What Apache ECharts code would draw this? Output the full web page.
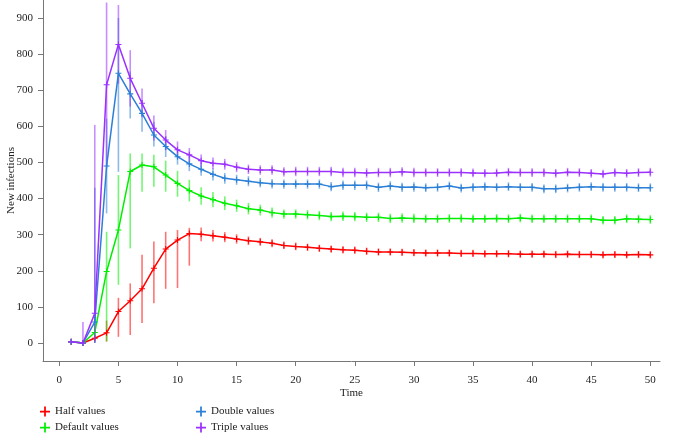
<!DOCTYPE html>
<html>
<head>
<meta charset="utf-8">
<script src="https://cdn.jsdelivr.net/npm/echarts@6/dist/echarts.min.js"></script>
<style>html,body{margin:0;padding:0;background:#fff;}#chart{width:674px;height:434px;}</style>
</head>
<body>
<div id="chart"></div>
<script>
const time = [1,2,3,4,5,6,7,8,9,10,11,12,13,14,15,16,17,18,19,20,21,22,23,24,25,26,27,28,29,30,31,32,33,34,35,36,37,38,39,40,41,42,43,44,45,46,47,48,49,50];
const xTicks = [0,5,10,15,20,25,30,35,40,45,50];
const yTicks = [0,100,200,300,400,500,600,700,800,900];
const seriesNames = ['Half values','Default values','Double values','Triple values'];

const halfMean = [3,0,13,28,87,117,150,207,260,285,303,301,297,293,288,283,280,276,270,267,265,262,260,258,257,254,252,252,251,250,249,249,249,248,248,247,247,247,246,246,246,245,246,245,245,244,245,244,245,244];
const halfLow  = [3,0,5,4,17,22,55,110,150,152,214,282,281,279,275,271,269,265,260,257,255,252,250,248,247,244,242,242,241,240,239,239,239,238,238,237,237,237,236,236,236,235,236,235,235,234,235,234,235,234];
const halfHigh = [3,0,22,62,125,165,244,281,308,313,319,320,313,307,301,295,291,287,281,278,275,272,270,268,267,264,262,262,261,260,259,259,259,258,258,257,257,257,256,256,256,255,256,255,255,254,255,254,255,254];

const defMean = [3,0,29,198,313,475,493,488,465,442,422,407,397,387,380,372,368,361,357,357,355,353,350,351,350,348,348,345,346,345,344,344,345,345,344,344,345,344,346,344,344,344,344,344,344,340,340,344,343,342];
const defLow  = [3,0,0,4,161,262,419,433,419,405,392,383,376,368,363,356,353,347,344,344,342,340,337,338,337,335,335,332,333,332,332,332,333,333,332,332,333,332,334,332,332,332,332,332,332,328,328,332,331,330];
const defHigh = [3,0,80,308,465,525,525,521,505,477,452,431,418,406,397,388,383,375,370,370,368,366,363,364,363,361,361,358,359,358,356,356,357,357,356,356,357,356,358,356,356,356,356,356,356,352,352,356,355,354];

const dblMean = [3,0,58,490,747,690,636,576,544,516,496,481,467,456,452,448,444,441,440,440,440,440,433,437,437,437,431,435,431,432,430,431,435,429,431,433,431,433,431,431,427,427,429,431,433,431,431,431,430,430];
const dblLow  = [3,0,0,359,474,622,585,544,515,494,476,463,450,441,438,434,431,428,427,427,427,427,420,424,424,424,418,422,418,419,418,419,423,417,419,421,419,421,419,419,415,415,417,419,421,419,419,419,418,418];
const dblHigh = [3,0,430,621,900,752,673,613,573,538,516,499,484,471,466,462,457,454,453,453,453,453,446,450,450,450,444,448,444,445,442,443,447,441,443,445,443,445,443,443,439,439,441,443,445,443,443,443,442,442];

const triMean = [3,0,82,715,827,733,664,595,562,535,521,505,498,495,487,481,479,479,474,475,475,475,475,472,472,471,472,472,474,472,472,472,472,472,471,470,471,473,472,472,472,470,473,472,470,468,472,470,472,473];
const triLow  = [3,0,0,487,718,655,625,560,534,512,502,488,482,480,473,468,466,466,461,462,462,462,462,459,459,458,459,459,461,459,460,460,460,460,459,458,459,461,460,460,460,458,461,460,458,456,460,458,460,461];
const triHigh = [3,58,604,943,936,811,705,630,590,558,540,522,514,510,501,494,492,492,487,488,488,488,488,485,485,484,485,485,487,485,484,484,484,484,483,482,483,485,484,484,484,482,485,484,482,480,484,482,484,485];

const colors = ['#ff0000','#00ee00','#2b7fd6','#9b30ff'];
const groups = [
  [halfMean, halfLow, halfHigh],
  [defMean, defLow, defHigh],
  [dblMean, dblLow, dblHigh],
  [triMean, triLow, triHigh]
];

const plus = 'path://M-0.7,-4H0.7V-0.7H4V0.7H0.7V4H-0.7V0.7H-4V-0.7H-0.7Z';
const font = 'Liberation Serif';

const series = [];
groups.forEach((g, k) => {
  const col = colors[k];
  series.push({
    type: 'custom',
    name: seriesNames[k] + ' error',
    silent: true,
    z: 2 + k,
    encode: {x: 0, y: [1, 2]},
    data: time.map((t, i) => [t, g[1][i], g[2][i]]),
    renderItem: function (params, api) {
      const x = api.value(0);
      const p1 = api.coord([x, api.value(1)]);
      const p2 = api.coord([x, api.value(2)]);
      return {
        type: 'line',
        shape: {x1: p1[0], y1: p1[1], x2: p2[0], y2: p2[1]},
        style: {stroke: col, lineWidth: 1.6, opacity: 0.55}
      };
    }
  });
  series.push({
    type: 'line',
    name: seriesNames[k],
    z: 3 + k,
    data: time.map((t, i) => [t, g[0][i]]),
    symbol: plus,
    symbolSize: 6,
    showAllSymbol: true,
    itemStyle: {color: col},
    lineStyle: {color: col, width: 1.5}
  });
});

function legendAt(name, left, top) {
  return {
    data: [{name: name, icon: plus}],
    left: left, top: top,
    itemWidth: 10, itemHeight: 10, itemGap: 0, padding: 0,
    selectedMode: false,
    textStyle: {fontFamily: font, fontSize: 11, color: '#222'}
  };
}

const chart = echarts.init(document.getElementById('chart'), null, {renderer: 'canvas'});
chart.setOption({
  animation: false,
  backgroundColor: '#fff',
  textStyle: {fontFamily: font},
  grid: {left: 43, top: 0, right: 14, bottom: 73, containLabel: false, outerBoundsMode: 'none'},
  xAxis: {
    type: 'value',
    min: -1.38, max: 50.82,
    name: 'Time',
    nameLocation: 'middle',
    nameGap: 27,
    nameMoveOverlap: false,
    nameTextStyle: {fontFamily: font, fontSize: 11, color: '#222'},
    axisLine: {show: true, onZero: false, lineStyle: {color: '#777', width: 1}},
    axisTick: {show: true, length: 5, customValues: xTicks, lineStyle: {color: '#777'}},
    axisLabel: {customValues: xTicks, margin: 14, fontFamily: font, fontSize: 11, color: '#222'},
    splitLine: {show: false}
  },
  yAxis: {
    type: 'value',
    min: -50, max: 950,
    name: 'New infections',
    nameLocation: 'middle',
    nameGap: 26,
    nameMoveOverlap: false,
    nameTextStyle: {fontFamily: font, fontSize: 11, color: '#222'},
    axisLine: {show: true, onZero: false, lineStyle: {color: '#777', width: 1}},
    axisTick: {show: true, length: 5, customValues: yTicks, lineStyle: {color: '#777'}},
    axisLabel: {customValues: yTicks, margin: 10, fontFamily: font, fontSize: 11, color: '#222'},
    splitLine: {show: false}
  },
  legend: [
    legendAt('Half values', 40, 406),
    legendAt('Default values', 40, 422),
    legendAt('Double values', 196, 406),
    legendAt('Triple values', 196, 422)
  ],
  series: series
});
</script>
</body>
</html>
